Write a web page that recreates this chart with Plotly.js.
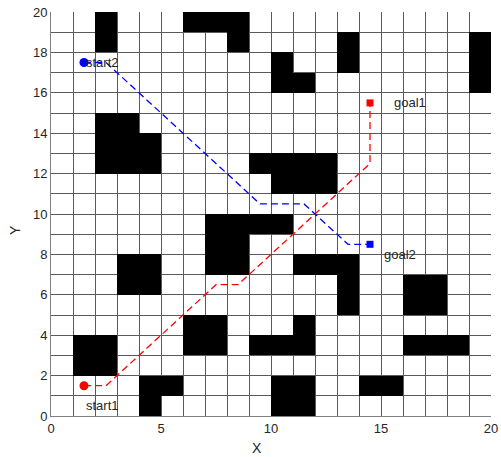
<!DOCTYPE html>
<html><head><meta charset="utf-8">
<script src="https://cdn.plot.ly/plotly-3.0.1.min.js"></script>
<style>html,body{margin:0;padding:0;background:#fff}#chart{width:501px;height:457px}</style>
</head><body><div id="chart"></div>
<script>
// Obstacle cells (lower-left corner of each 1x1 cell)
var obsCol = [2,6,7,8, 2,8,13,19, 10,13,19, 10,11,19, 2,3, 2,3,4, 2,3,4,9,10,11,12, 10,11,12,
              7,8,9,10, 7,8, 3,4,7,8,11,12,13, 3,4,13,16,17, 13,16,17, 6,7,11,
              1,2,6,7,9,10,11,16,17,18, 1,2, 4,5,10,11,14,15, 4,10,11];
var obsRow = [19,19,19,19, 18,18,18,18, 17,17,17, 16,16,16, 14,14, 13,13,13, 12,12,12,12,12,12,12, 11,11,11,
              9,9,9,9, 8,8, 7,7,7,7,7,7,7, 6,6,6,6,6, 5,5,5, 4,4,4,
              3,3,3,3,3,3,3,3,3,3, 2,2, 1,1,1,1,1,1, 0,0,0];

// Path 1 (red)
var path1X = [1.5, 2.5, 7.5, 8.5, 14.5, 14.5];
var path1Y = [1.5, 1.5, 6.5, 6.5, 12.5, 15.5];
// Path 2 (blue)
var path2X = [1.5, 2.5, 9.5, 11.5, 13.5, 14.5];
var path2Y = [17.5, 17.5, 10.5, 10.5, 8.5, 8.5];

var start1 = [1.5, 1.5], goal1 = [14.5, 15.5];
var start2 = [1.5, 17.5], goal2 = [14.5, 8.5];

var labels = ['start1', 'goal1', 'start2', 'goal2'];
var labelX = [1.5, 15.5, 1.5, 15.05];
var labelY = [0.5, 15.5, 17.5, 8.0];

var xTickVals = [0, 5, 10, 15, 20];
var yTickVals = [0, 2, 4, 6, 8, 10, 12, 14, 16, 18, 20];

// grid matrix for heatmap
var N = 20, z = [], centers = [];
for (var i = 0; i < N; i++) centers.push(i + 0.5);
for (var r = 0; r < N; r++) { var row = []; for (var c = 0; c < N; c++) row.push(0); z.push(row); }
for (var k = 0; k < obsCol.length; k++) z[obsRow[k]][obsCol[k]] = 1;

var gridVals = []; for (var g = 0; g <= N; g++) gridVals.push(g);

var FONT = 'Liberation Sans, Arial';
var L = 51, R = 10, T = 12, B = 41, W = 501, H = 457;

var traces = [
  {type: 'heatmap', x: centers, y: centers, z: z, zmin: 0, zmax: 1,
   colorscale: [[0, 'rgba(255,255,255,0)'], [1, '#000000']], showscale: false, hoverinfo: 'skip'},
  {type: 'scatter', mode: 'lines', x: path1X, y: path1Y,
   line: {color: '#ff0000', width: 1.3, dash: '7px,4px'}},
  {type: 'scatter', mode: 'lines', x: path2X, y: path2Y,
   line: {color: '#0000ff', width: 1.3, dash: '7px,4px'}},
  {type: 'scatter', mode: 'markers', x: [start1[0]], y: [start1[1]],
   marker: {symbol: 'circle', size: 9, color: '#ff0000'}},
  {type: 'scatter', mode: 'markers', x: [goal1[0]], y: [goal1[1]],
   marker: {symbol: 'square', size: 7, color: '#ff0000'}},
  {type: 'scatter', mode: 'markers', x: [start2[0]], y: [start2[1]],
   marker: {symbol: 'circle', size: 9, color: '#0000ff'}},
  {type: 'scatter', mode: 'markers', x: [goal2[0]], y: [goal2[1]],
   marker: {symbol: 'square', size: 7, color: '#0000ff'}}
];

var annotations = labels.map(function (t, i) {
  return {x: labelX[i], y: labelY[i], xref: 'x', yref: 'y', text: t, showarrow: false,
          xanchor: 'left', yanchor: 'middle', font: {family: FONT, size: 13, color: '#262626'}};
});
// axis titles, placed by pixel position as in the reference (slightly off-centre)
var xTitlePx = [257, 448], yTitlePx = [15, 230];
annotations.push({x: (xTitlePx[0] - L) / (W - L - R), y: (H - B - xTitlePx[1]) / (H - T - B),
  xref: 'paper', yref: 'paper', text: 'X', showarrow: false, borderpad: 0,
  xanchor: 'center', yanchor: 'middle', font: {family: FONT, size: 14, color: '#262626'}});
annotations.push({x: (yTitlePx[0] - L) / (W - L - R), y: (H - B - yTitlePx[1]) / (H - T - B),
  xref: 'paper', yref: 'paper', text: 'Y', showarrow: false, textangle: -90, borderpad: 0,
  xanchor: 'center', yanchor: 'middle', font: {family: FONT, size: 14, color: '#262626'}});

function tickText(vals, labelled) {
  return vals.map(function (v) { return labelled.indexOf(v) >= 0 ? String(v) : ''; });
}

var axisCommon = {
  range: [0, 20], showgrid: true, gridcolor: '#5a5a5a', gridwidth: 1,
  zeroline: false, showline: true, linecolor: '#808080', linewidth: 1, ticks: '',
  tickfont: {family: FONT, size: 13, color: '#262626'},
  tickmode: 'array', tickvals: gridVals, fixedrange: true
};

var layout = {
  width: W, height: H,
  margin: {l: L, r: R, t: T, b: B},
  paper_bgcolor: '#ffffff', plot_bgcolor: '#ffffff',
  showlegend: false,
  xaxis: Object.assign({}, axisCommon, {ticktext: tickText(gridVals, xTickVals)}),
  yaxis: Object.assign({}, axisCommon, {ticktext: tickText(gridVals, yTickVals)}),
  annotations: annotations
};

Plotly.newPlot('chart', traces, layout, {displayModeBar: false, staticPlot: true});
</script>
</body></html>
